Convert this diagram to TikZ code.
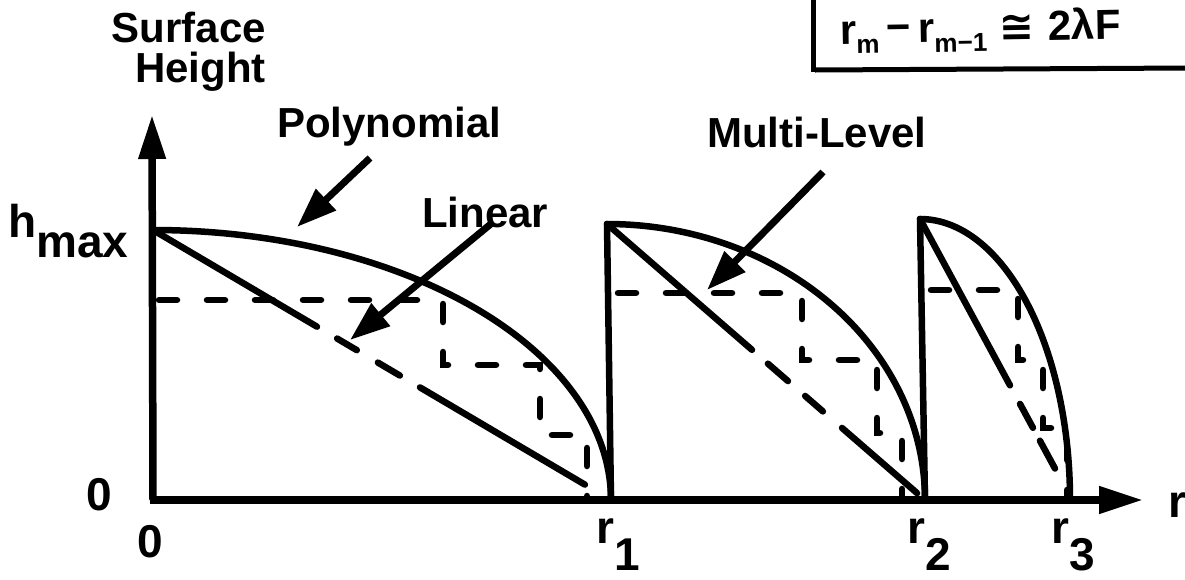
\documentclass[tikz,border=0pt]{standalone}
\usepackage{fontspec}
\setmainfont{Liberation Sans}
\newfontfamily\djv{DejaVu Sans}
\usetikzlibrary{arrows.meta,calc}
\tikzset{
  curve/.style={line width=6.5pt, line cap=round, line join=round},
  axisline/.style={line width=7.5pt, -{Triangle[length=44pt,width=26pt]}},
  stairs/.style={line width=6.5pt, line cap=round, dash pattern=on 18pt off 30pt, dash phase=42pt},
  callout/.style={line width=7pt, -{Triangle[length=40pt,width=28pt]}},
  lbl/.style={inner sep=0pt, font=\fontsize{42}{46}\selectfont\bfseries},
  axlbl/.style={inner sep=0pt, font=\fontsize{46}{50}\selectfont\bfseries},
}
\begin{document}
\begin{tikzpicture}[x=1pt,y=-1pt]
\useasboundingbox (0,0) rectangle (1185,579);
% key points
\coordinate (O) at (153,500);
\coordinate (YT) at (152,115);
\coordinate (XT) at (1143,500);
\coordinate (T1) at (153,230);
\coordinate (R1) at (611,500);
\coordinate (T2) at (607,224);
\coordinate (R2) at (925,500);
\coordinate (T3) at (920,219);
\coordinate (R3) at (1072,500);
% axes
\draw[axisline] (O) -- (YT);
\draw[axisline] ([xshift=-3.5pt]O) -- (XT);
% polynomial curves
\draw[curve] plot[domain=90:0, samples=90, smooth] ({153+458*cos(\x)},{500-270*sin(\x)});
\draw[curve] plot[domain=90:0, samples=90, smooth] ({607+318*cos(\x)},{500-276*sin(\x)});
\draw[curve] plot[domain=90:0, samples=90, smooth] ({920+150*cos(\x)},{500-281*sin(\x)});
% vertical drops
\draw[curve] (R1) -- (T2);
\draw[curve] (R2) -- (T3);
% linear profiles
\draw[curve] (T1) -- ($(T1)!0.358!(R1)$);
\draw[curve] ($(T1)!0.402!(R1)$) -- ($(T1)!0.445!(R1)$);
\draw[curve] ($(T1)!0.491!(R1)$) -- ($(T1)!0.539!(R1)$);
\draw[curve] ($(T1)!0.583!(R1)$) -- ($(T1)!0.943!(R1)$);
\draw[curve] (T2) -- ($(T2)!0.456!(R2)$);
\draw[curve] ($(T2)!0.506!(R2)$) -- ($(T2)!0.569!(R2)$);
\draw[curve] ($(T2)!0.623!(R2)$) -- ($(T2)!0.679!(R2)$);
\draw[curve] ($(T2)!0.739!(R2)$) -- ($(T2)!0.975!(R2)$);
\draw[curve] (T3) -- ($(T3)!0.592!(R3)$);
\draw[curve] ($(T3)!0.658!(R3)$) -- ($(T3)!0.743!(R3)$);
\draw[curve] ($(T3)!0.789!(R3)$) -- ($(T3)!0.888!(R3)$);
% multi-level staircases
\draw[stairs] (153,300) -- (443,300) -- (443,365) -- (540,365) -- (540,435) -- (587,435) -- (587,500);
\draw[stairs] (612,293) -- (802,293) -- (802,360) -- (877,360) -- (877,433) -- (902,433) -- (902,500);
\draw[stairs] (925,290) -- (1018,290) -- (1018,360) -- (1043,360) -- (1043,428) -- (1067,428) -- (1067,500);
% labels
\node[lbl, anchor=base east] (surf) at (266,42) {Surface};
\node[lbl, anchor=base east] (height) at (266,82) {Height};
\node[lbl, anchor=base west] (poly) at (277,137) {Polynomial};
\node[lbl, anchor=base west] (lin) at (422,227) {Linear};
\node[lbl, anchor=base west] (multi) at (707,147) {Multi-Level};
\node[axlbl, anchor=base west] (hmax) at (8,237) {h\raisebox{-20pt}{max}};
\node[axlbl, anchor=base east] (zero) at (112,510) {0};
\node[axlbl, anchor=base] (zerob) at (150,557) {0};
\node[axlbl, anchor=base west] (r1) at (596,543) {r\raisebox{-27pt}{1}};
\node[axlbl, anchor=base west] (r2) at (907,543) {r\raisebox{-27pt}{2}};
\node[axlbl, anchor=base west] (r3) at (1051,543) {r\raisebox{-27pt}{3}};
\node[axlbl, anchor=base west] (r) at (1168,517) {r};
% callout arrows
\coordinate (pt) at (297,227);
\coordinate (lt) at (350,340);
\coordinate (mt) at (707,290);
\draw[callout] (370,158) -- (pt);
\draw[callout] (492,223) -- (lt);
\draw[callout] (823,172) -- (mt);
% formula box
\draw[line width=5pt] (813,-2) -- (813,72);
\draw[line width=5pt] (815,70) -- (1190,68);
\node[inner sep=0pt, anchor=base west, rotate=1, font=\fontsize{42}{46}\selectfont\bfseries] (formula) at (840,44)
  {r\raisebox{-10pt}{\fontsize{26}{28}\selectfont m}\,\raisebox{2pt}{−}\,r\raisebox{-10pt}{\fontsize{26}{28}\selectfont m−1}\hspace{12pt}{\djv\bfseries ≅}\hspace{14pt}2λF};
\end{tikzpicture}
\end{document}
